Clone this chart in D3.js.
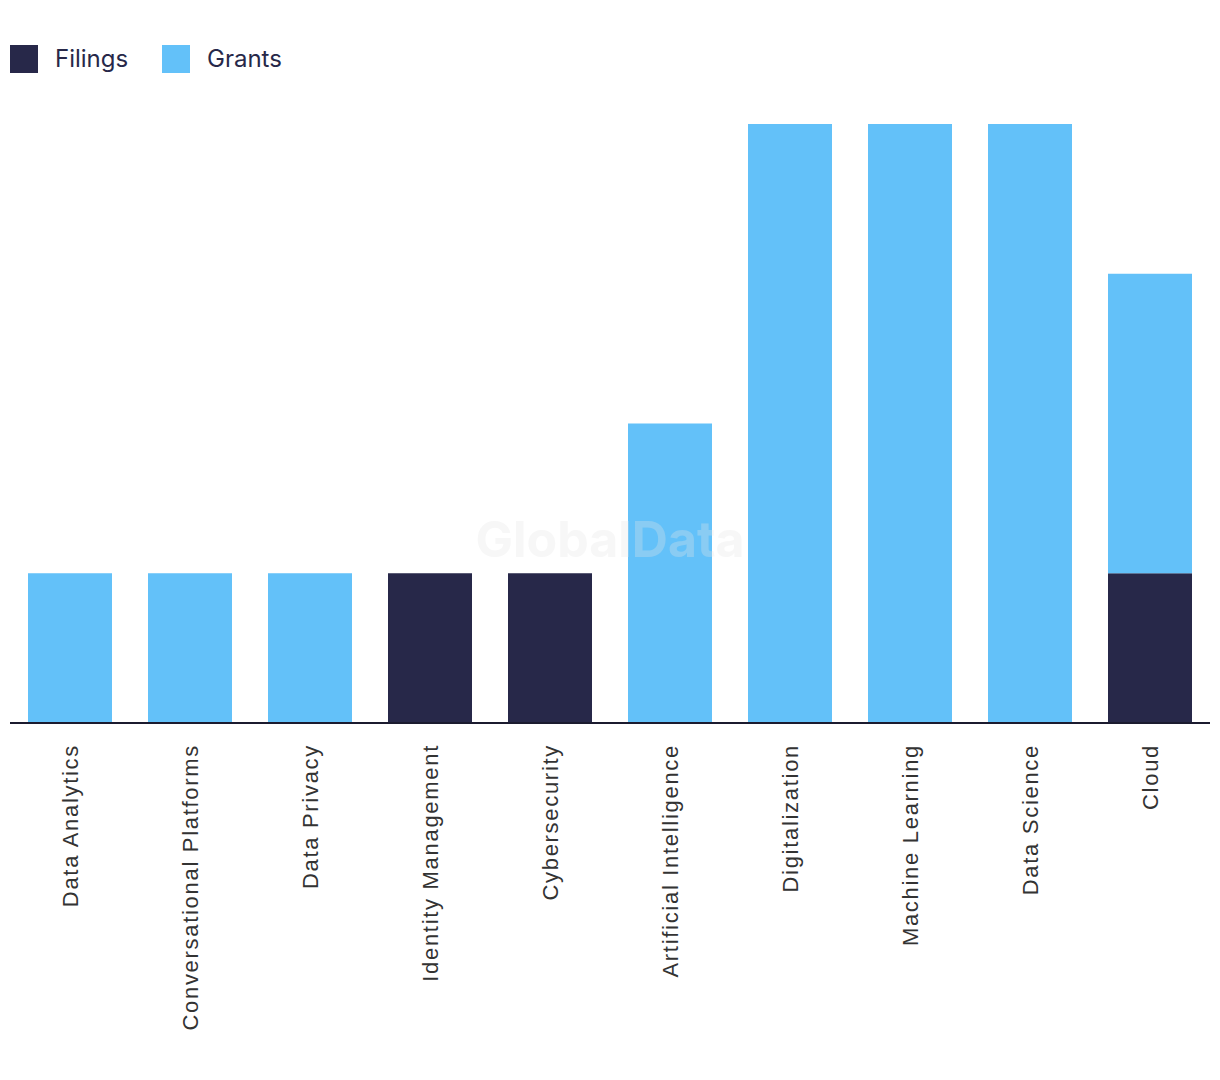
<!DOCTYPE html>
<html>
<head>
<meta charset="utf-8">
<script src="https://cdn.jsdelivr.net/npm/d3@7"></script>
<style>
  html, body { margin: 0; padding: 0; background: #fff; }
  svg { display: block; }
</style>
</head>
<body>
<svg id="chart" width="1220" height="1080"></svg>
<script>
const categories = ["Data Analytics", "Conversational Platforms", "Data Privacy", "Identity Management", "Cybersecurity", "Artificial Intelligence", "Digitalization", "Machine Learning", "Data Science", "Cloud"];
const filings = [0, 0, 0, 1, 1, 0, 0, 0, 0, 1];
const grants  = [1, 1, 1, 0, 0, 2, 4, 4, 4, 2];
const seriesNames = ["Filings", "Grants"];
const colors = ["#272849", "#63c1f9"];

const svg = d3.select("#chart");
const margin = {left: 10, right: 10, top: 124, bottom: 357};
const W = 1220, H = 1080;
const x = d3.scaleBand().domain(categories).range([margin.left, W - margin.right]).paddingInner(0.3).paddingOuter(0.15);
const y = d3.scaleLinear().domain([0, 4]).range([H - margin.bottom, margin.top]);

const rows = categories.map((c, i) => ({cat: c, Filings: filings[i], Grants: grants[i]}));
const stack = d3.stack().keys(seriesNames)(rows);

svg.append("g").selectAll("g").data(stack).join("g")
  .attr("fill", (d, i) => colors[i])
  .selectAll("rect").data(d => d).join("rect")
  .attr("x", d => x(d.data.cat))
  .attr("width", x.bandwidth())
  .attr("y", d => y(d[1]))
  .attr("height", d => y(d[0]) - y(d[1]));

// watermark
svg.append("text")
  .attr("x", 610).attr("y", 557)
  .attr("text-anchor", "middle")
  .attr("font-family", "Inter, 'Liberation Sans', sans-serif")
  .attr("font-weight", 700)
  .attr("font-size", 50)
  .attr("fill", "#e6e6e6")
  .attr("opacity", 0.3)
  .text("GlobalData");

// x axis
const xAxis = svg.append("g")
  .attr("transform", `translate(0,${y(0)})`)
  .call(d3.axisBottom(x).tickSize(0).tickPadding(0));
xAxis.select(".domain").attr("stroke", "#1b1b2f").attr("stroke-width", 2)
  .attr("d", `M${margin.left},0H${W - margin.right}`);
xAxis.selectAll(".tick text")
  .attr("transform", "rotate(-90)")
  .attr("text-anchor", "end")
  .attr("x", -21)
  .attr("y", 0)
  .attr("dy", "0.35em")
  .attr("font-family", "'Liberation Sans', Arial, sans-serif")
  .attr("font-size", 22)
  .attr("letter-spacing", "1.7px")
  .attr("fill", "#333");

// legend
const legend = svg.append("g").attr("transform", "translate(10,45)");
const lx = [0, 152];
seriesNames.forEach((s, i) => {
  const g = legend.append("g").attr("transform", `translate(${lx[i]},0)`);
  g.append("rect").attr("width", 28).attr("height", 28).attr("fill", colors[i]);
  g.append("text").attr("x", 45).attr("y", 21.5)
    .attr("font-family", "Inter, 'Noto Sans', sans-serif")
    .attr("font-size", 24)
    .attr("fill", "#272849")
    .text(s);
});
</script>
</body>
</html>
